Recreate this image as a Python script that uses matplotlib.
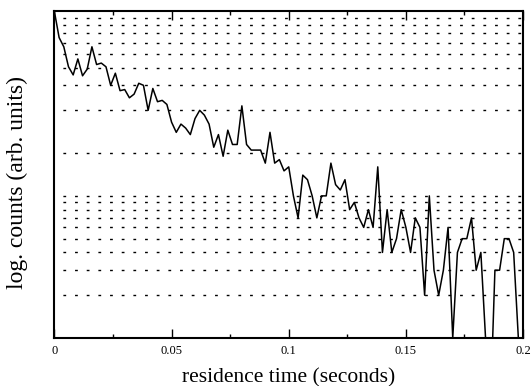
import numpy as np
import matplotlib
matplotlib.use("Agg")
import matplotlib.pyplot as plt

plt.rcParams["font.family"] = ["Liberation Serif", "DejaVu Serif"]

# residence time bins (seconds) and counts
bin_width = 0.002
counts = [198, 130, 112, 81, 71, 92, 70, 78, 112, 84,
          86, 81, 60, 73, 55, 56, 49, 52, 62, 60,
          40, 57, 46, 47, 44, 33, 28, 32, 30, 27,
          35, 40, 37, 32, 22, 27, 19, 29, 23, 23,
          43, 23, 21, 21, 21, 17, 28, 17, 18, 15,
          16, 10, 7, 14, 13, 10, 7, 10, 10, 17,
          12, 11, 13, 8, 9, 7, 6, 8, 6, 16,
          4, 8, 4, 5, 8, 6, 4, 7, 6, 2,
          10, 3, 2, 3, 6, 1, 4, 5, 5, 7,
          3, 4, 1, 0.3, 3, 3, 5, 5, 4, 1]
times = [i * bin_width for i in range(len(counts))]

grid_levels = [2, 3, 4, 5, 6, 7, 8, 9, 10,
               20, 40, 60, 80, 100, 120, 140, 160, 180]
x_ticks = [0, 0.05, 0.1, 0.15, 0.2]
x_tick_labels = ["0", "0.05", "0.1", "0.15", "0.2"]
x_minor = [0.025, 0.075, 0.125, 0.175]

fig = plt.figure(figsize=(5.31, 3.86), dpi=100)
ax = fig.add_axes([0.1025, 0.1244, 0.8825, 0.8471])

ax.plot(times, counts, color="black", linewidth=1.1)

ax.set_yscale("log")
ax.set_ylim(1, 200)
ax.set_xlim(0, 0.2)

ax.set_yticks(grid_levels)
ax.set_yticklabels([])
ax.yaxis.set_minor_locator(matplotlib.ticker.NullLocator())
ax.tick_params(axis="y", which="both", length=0)
ax.grid(axis="y", color="black", linewidth=1.0, linestyle=(2, (2.0, 6.4)))

ax.set_xticks(x_ticks)
ax.set_xticklabels(x_tick_labels)
ax.set_xticks(x_minor, minor=True)
ax.tick_params(axis="x", which="major", direction="in", length=6.5, width=1.0,
               top=True, labelsize=9, pad=5)
ax.tick_params(axis="x", which="minor", direction="in", length=3.2, width=1.0,
               top=True)

for side in ax.spines.values():
    side.set_linewidth(1.5)

ax.set_xlabel("residence time (seconds)", fontsize=15.5, labelpad=8)
ax.set_ylabel("log. counts (arb. units)", fontsize=17)
ax.yaxis.set_label_coords(-0.057, 0.477)

fig.savefig("out.png", dpi=100)
